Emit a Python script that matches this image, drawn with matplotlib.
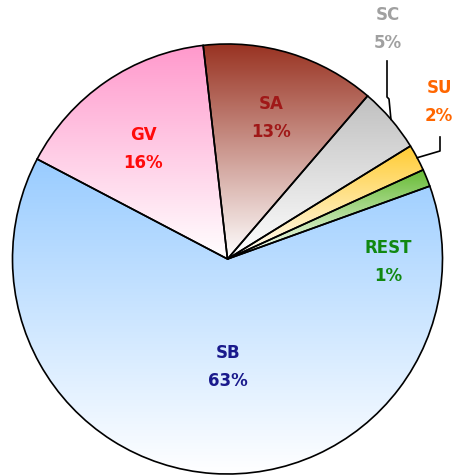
import numpy as np
import matplotlib
matplotlib.use("Agg")
import matplotlib.pyplot as plt
from matplotlib.colors import to_rgb

# ─── Dados ────────────────────────────────────────────────────────────────────
categorias = ["SA", "SC", "SU", "REST", "SB", "GV"]
valores = [13.1, 4.9, 2.0, 1.3, 63.2, 15.5]
rotulos_pct = ["13%", "5%", "2%", "1%", "63%", "16%"]

cores_fatia = ["#993322", "#C0C0C0", "#FFCC33", "#66BB33", "#99CCFF", "#FF99CC"]
cores_texto = ["#A01818", "#A0A0A0", "#FF6600", "#118811", "#1A1A8C", "#FF0A0A"]

# ─── Layout (pixels da imagem, y para baixo) ──────────────────────────────────
W, H = 455, 477
CENTRO = (227.5, H - 260)
RAIO = 215
POS_ROTULO = {
    "SA": (271, 118), "SC": (388, 29), "SU": (439, 102),
    "REST": (388, 262), "SB": (228, 367), "GV": (143, 149),
}
# cotovelos das linhas guia (rótulos externos)
GUIAS = {"SC": [(389, 100), (387, 98), (387, 62)], "SU": [(440, 152), (440, 138)]}

fig = plt.figure(figsize=(W / 100, H / 100), dpi=100)
ax = fig.add_axes([0, 0, 1, 1])

wedges, _ = ax.pie(valores, center=CENTRO, radius=RAIO, startangle=96.5,
                   counterclock=False,
                   wedgeprops=dict(facecolor="none", edgecolor="black",
                                   linewidth=1.2, zorder=3))

# gradiente vertical: cor cheia no topo da fatia, branco embaixo
t = np.linspace(0, 1, 256)[:, None, None]
for w, cor in zip(wedges, cores_fatia):
    c = np.array(to_rgb(cor))[None, None, :]
    img = c * (1 - t) + t
    bb = w.get_path().get_extents()
    im = ax.imshow(img, extent=[bb.x0, bb.x1, bb.y0, bb.y1], origin="upper",
                   aspect="auto", zorder=1, interpolation="bilinear")
    im.set_clip_path(w)

for w, cat, pct, cor in zip(wedges, categorias, rotulos_pct, cores_texto):
    x, y = POS_ROTULO[cat]
    ax.text(x, H - y, f"{cat}\n{pct}", ha="center", va="center", color=cor,
            fontsize=12, fontweight="bold", linespacing=1.68, zorder=5)
    if cat in GUIAS:
        ang = np.deg2rad((w.theta1 + w.theta2) / 2)
        pts = [(CENTRO[0] + RAIO * np.cos(ang), CENTRO[1] + RAIO * np.sin(ang))]
        pts += [(px, H - py) for px, py in GUIAS[cat]]
        xs, ys = zip(*pts)
        ax.plot(xs, ys, color="black", linewidth=1.2, zorder=4)

ax.set_xlim(0, W)
ax.set_ylim(0, H)
ax.set_aspect("auto")
ax.axis("off")
fig.savefig("out.png", dpi=100)
